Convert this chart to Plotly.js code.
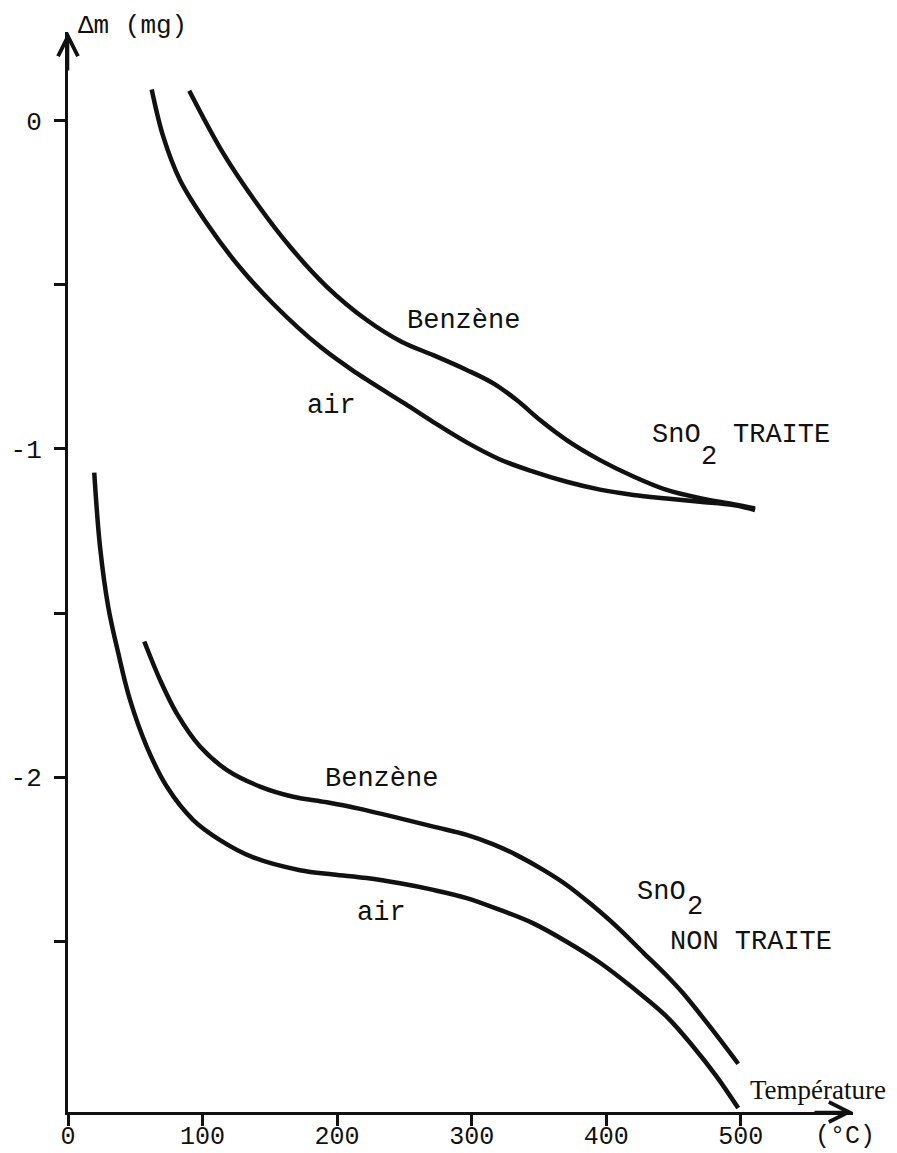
<!DOCTYPE html>
<html>
<head>
<meta charset="utf-8">
<script src="https://cdn.plot.ly/plotly-3.0.1.min.js"></script>
<style>
  html, body { margin: 0; padding: 0; background: #fff; }
  #chart { width: 897px; height: 1153px; }
</style>
</head>
<body>
<div id="chart"></div>
<script>
// ---- Data (temperature in °C, mass change in mg) ----
// SnO2 TRAITE
const treatedAirT = [62.2, 70.8, 83.2, 103.1, 127.8, 152.6, 187.3, 214.6, 250.4, 271.5, 296.3, 321.0, 345.8, 370.6, 395.4, 420.2, 444.9, 469.7, 494.4, 510.6];
const treatedAirM = [0.096, -0.048, -0.180, -0.312, -0.447, -0.558, -0.688, -0.769, -0.862, -0.918, -0.980, -1.032, -1.069, -1.100, -1.124, -1.140, -1.151, -1.161, -1.171, -1.186];
const treatedBenzT = [90.1, 115.4, 140.2, 164.9, 192.2, 222.0, 248.2, 271.5, 296.3, 316.1, 333.5, 350.8, 370.6, 395.4, 420.2, 444.9, 469.7, 494.4, 510.6];
const treatedBenzM = [0.092, -0.099, -0.251, -0.383, -0.505, -0.607, -0.674, -0.714, -0.759, -0.800, -0.851, -0.912, -0.973, -1.034, -1.084, -1.125, -1.150, -1.168, -1.181];
// SnO2 NON TRAITE
const rawAirT = [19.5, 23.8, 29.9, 37.4, 46.1, 58.5, 73.4, 93.1, 113.0, 137.7, 172.4, 197.2, 222.0, 246.7, 271.5, 296.3, 321.0, 345.8, 370.6, 395.4, 420.2, 444.9, 464.7, 482.1, 498.1];
const rawAirM = [-1.072, -1.298, -1.481, -1.623, -1.765, -1.907, -2.029, -2.131, -2.192, -2.245, -2.284, -2.297, -2.308, -2.324, -2.344, -2.369, -2.405, -2.446, -2.502, -2.566, -2.644, -2.730, -2.822, -2.913, -3.009];
const rawBenzT = [56.7, 68.4, 80.8, 98.1, 117.9, 142.7, 167.4, 192.3, 217.0, 246.7, 271.5, 296.3, 316.1, 333.5, 353.2, 370.6, 387.9, 407.8, 427.5, 444.9, 457.3, 477.1, 498.1];
const rawBenzM = [-1.587, -1.704, -1.806, -1.907, -1.978, -2.029, -2.060, -2.077, -2.097, -2.126, -2.151, -2.176, -2.205, -2.238, -2.283, -2.329, -2.385, -2.456, -2.535, -2.605, -2.660, -2.761, -2.874];

// ---- Ticks ----
const xTickVals = [0, 100, 200, 300, 400, 500];
const xTickText = ['0', '100', '200', '300', '400', '500'];
const yTickVals = [0, -0.5, -1, -1.5, -2, -2.5];
const yTickText = ['0', '', '-1', '', '-2', ''];

const INK = '#111';
const MONO = 'Liberation Mono, DejaVu Sans Mono, monospace';
const SERIF = 'Liberation Serif, DejaVu Serif, serif';

function curve(x, y, name) {
  return {
    x: x, y: y, name: name, type: 'scatter', mode: 'lines',
    line: { color: INK, width: 4.5, shape: 'spline', smoothing: 1 },
    hoverinfo: 'skip', showlegend: false
  };
}

const traces = [
  curve(treatedAirT, treatedAirM, 'air (traité)'),
  curve(treatedBenzT, treatedBenzM, 'Benzène (traité)'),
  curve(rawAirT, rawAirM, 'air (non traité)'),
  curve(rawBenzT, rawBenzM, 'Benzène (non traité)')
];

function label(text, x, y, opts) {
  opts = opts || {};
  return {
    text: text, x: x, y: y, xref: opts.ref ? 'paper' : 'x', yref: opts.ref ? 'paper' : 'y',
    xanchor: 'left', yanchor: 'middle', showarrow: false,
    font: { family: opts.family || MONO, size: opts.size || 27, color: INK }
  };
}

const NB = '\u00a0';
const annotations = [
  label('Benzène', 250.4, -0.610),
  label('air', 176.1, -0.869),
  label('SnO', 432.5, -0.957),
  label('2', 468.9, -1.024),
  label('TRAITE', 492.7, -0.957),
  label('Benzène', 189.5, -2.006),
  label('air', 213.3, -2.414),
  label('SnO', 421.4, -2.350),
  label('2', 458.5, -2.397),
  label('NON' + NB + 'TRAITE', 446.0, -2.503),
  label('Température', 505.3, -2.954, { size: 27, family: SERIF }),
  label('\u0394m' + NB + '(mg)', 0.0102, 1.0056, { ref: true, size: 26 }),
  label('(°C)', 0.949, -0.023, { ref: true, size: 25 }),
  // axis arrowheads
  { x: 0, y: 0.271, xref: 'x', yref: 'y', ax: 0, ay: 40, axref: 'pixel', ayref: 'pixel',
    showarrow: true, arrowhead: 5, arrowsize: 1.5, arrowwidth: 2.6, arrowcolor: INK, text: '' },
  { x: 583.4, y: -3.021, xref: 'x', yref: 'y', ax: -40, ay: 0, axref: 'pixel', ayref: 'pixel',
    showarrow: true, arrowhead: 5, arrowsize: 1.5, arrowwidth: 2.6, arrowcolor: INK, text: '' }
];

const layout = {
  width: 897, height: 1153, autosize: false,
  margin: { l: 68, r: 44, t: 32, b: 41, pad: 0 },
  paper_bgcolor: '#fff', plot_bgcolor: '#fff',
  showlegend: false,
  xaxis: {
    range: [0, 583.4], showgrid: false, zeroline: false,
    showline: true, linecolor: INK, linewidth: 3,
    ticks: 'outside', ticklen: 11, tickwidth: 3, tickcolor: INK,
    tickvals: xTickVals, ticktext: xTickText,
    ticklabelstandoff: -12,
    tickfont: { family: MONO, size: 25, color: INK },
    fixedrange: true
  },
  yaxis: {
    range: [-3.021, 0.271], showgrid: false, zeroline: false,
    showline: true, linecolor: INK, linewidth: 3,
    ticks: 'outside', ticklen: 11, tickwidth: 3, tickcolor: INK,
    tickvals: yTickVals, ticktext: yTickText,
    ticklabelstandoff: 7,
    tickfont: { family: MONO, size: 26, color: INK },
    fixedrange: true
  },
  annotations: annotations
};

Plotly.newPlot('chart', traces, layout, { displayModeBar: false, staticPlot: true });
</script>
</body>
</html>
